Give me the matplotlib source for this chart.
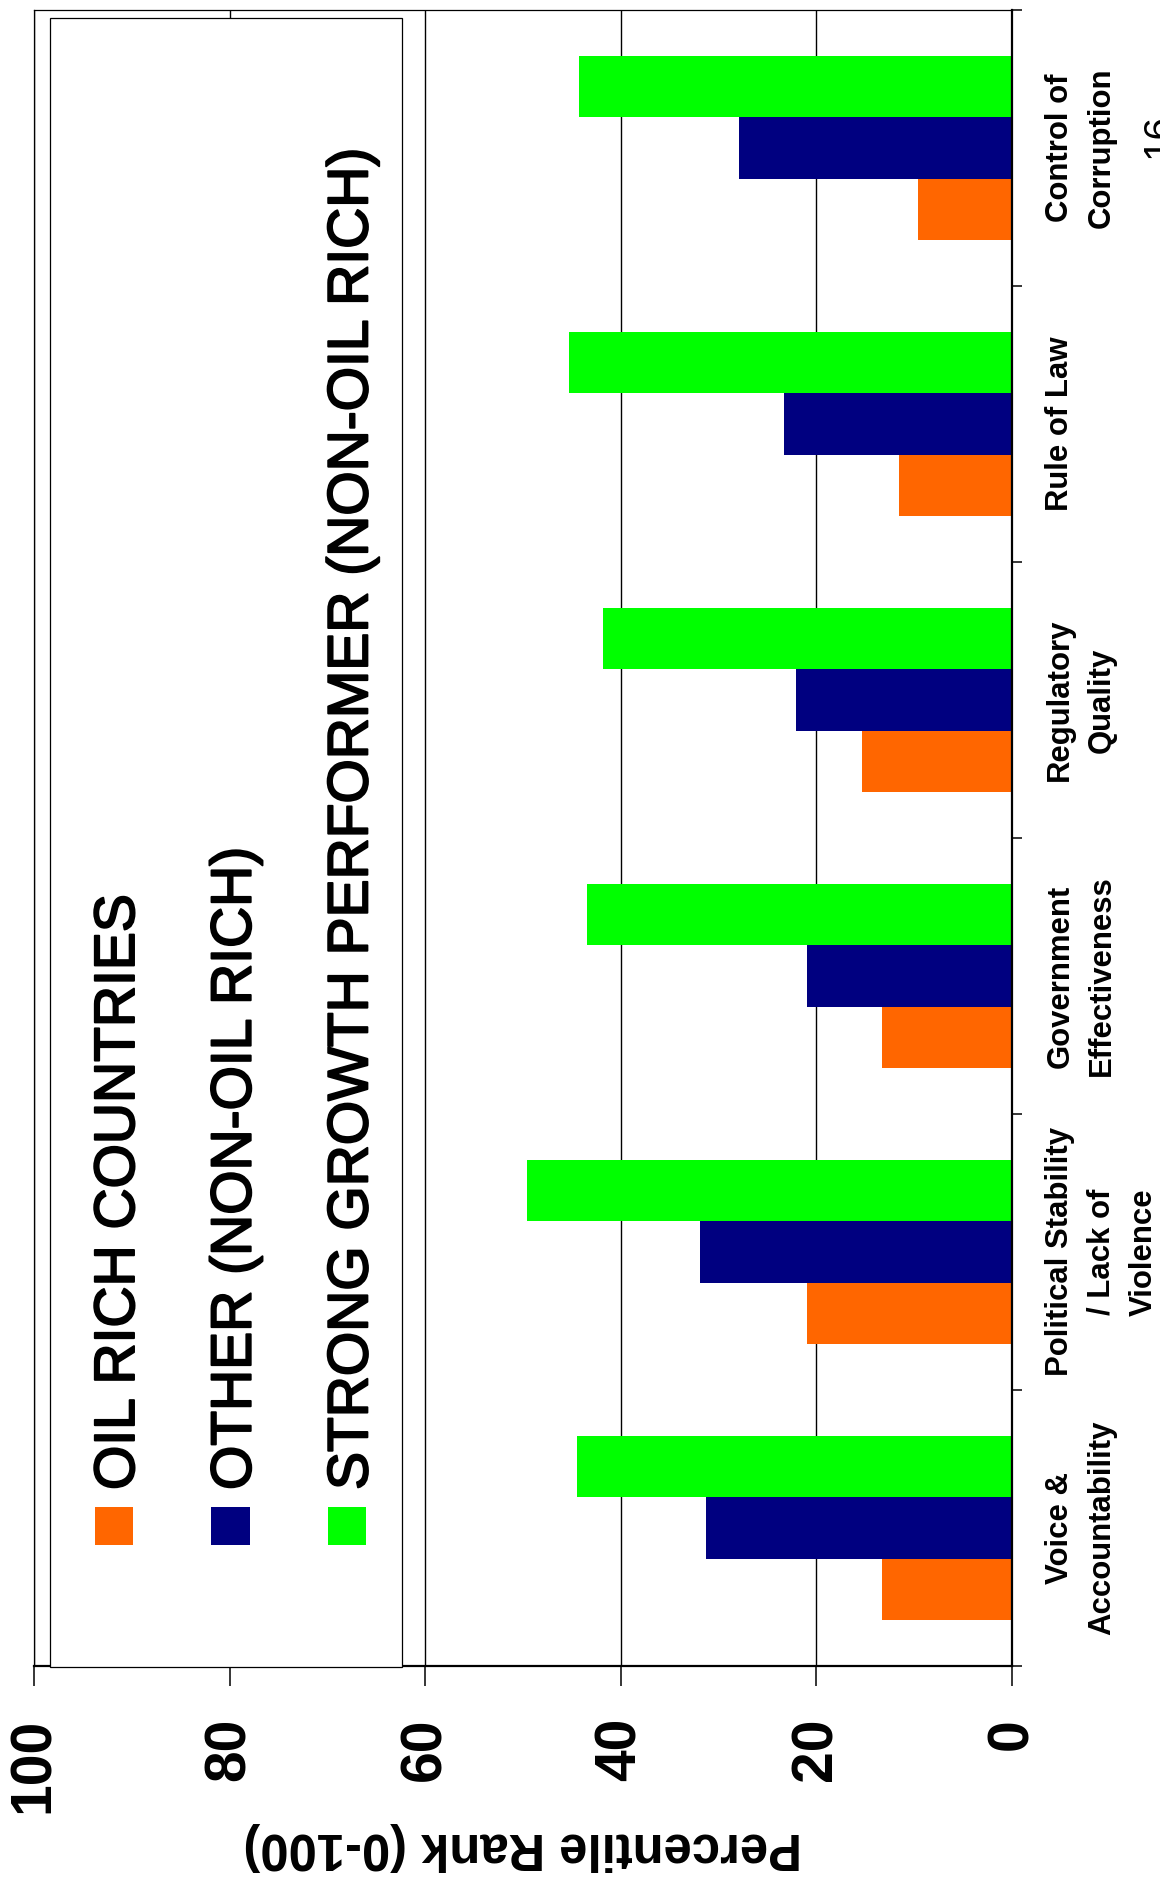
import matplotlib
matplotlib.use("Agg")
import matplotlib.pyplot as plt
import matplotlib.patheffects as pe
import numpy as np
from matplotlib.patches import Rectangle

plt.rcParams['font.family'] = ['Liberation Sans', 'DejaVu Sans']

# ---- data -------------------------------------------------------------
categories = [
    "Voice &\nAccountability",
    "Political Stability\n/ Lack of\nViolence",
    "Government\nEffectiveness",
    "Regulatory\nQuality",
    "Rule of Law",
    "Control of\nCorruption",
]
series_names = [
    "OIL RICH COUNTRIES",
    "OTHER (NON-OIL RICH)",
    "STRONG GROWTH PERFORMER (NON-OIL RICH)",
]
oil_rich = [13.3, 21.0, 13.3, 15.3, 11.6, 9.6]
other_non_oil = [31.3, 31.9, 21.0, 22.1, 23.3, 27.9]
strong_growth = [44.5, 49.6, 43.5, 41.8, 45.3, 44.3]
value_ticks = [0, 20, 40, 60, 80, 100]
value_label = "Percentile Rank (0-100)"
page_number = "16"

colors = ["#FF6600", "#000080", "#00FF00"]

# ---- figure -----------------------------------------------------------
W, H = 1160, 1887
fig = plt.figure(figsize=(W / 100, H / 100), dpi=100)
fig.patch.set_facecolor("white")


def fx(px):
    return px / W


def fy(py):
    return 1 - py / H


ax = fig.add_axes([fx(34), fy(1666), (1012 - 34) / W, (1666 - 10) / H])

y = np.arange(len(categories))
bar_h = 0.222
all_series = [oil_rich, other_non_oil, strong_growth]
for i, (vals, col) in enumerate(zip(all_series, colors)):
    ax.barh(y + (i - 1) * bar_h, vals, height=bar_h, color=col,
            edgecolor="none", zorder=2)

ax.set_xlim(100, 0)
ax.set_ylim(-0.5, len(categories) - 0.5)

# value axis
ax.set_xticks(value_ticks)
ax.set_xticklabels([str(v) for v in value_ticks], rotation=90,
                   fontsize=41, fontweight="bold")
ax.tick_params(axis="x", direction="out", length=14.4, width=1.1, pad=23,
               colors="black")
ax.xaxis.grid(True, color="black", linewidth=1.0)
ax.set_axisbelow(True)
ax.set_xlabel(value_label, rotation=180, fontsize=36.5, fontweight="bold",
              labelpad=6)

# category axis on the right
ax.yaxis.set_ticks_position("right")
ax.set_yticks(y)
ax.set_yticklabels(categories, rotation=90, fontsize=22.4, fontweight="bold",
                   va="center", ha="left", multialignment="center",
                   linespacing=1.5)
ax.set_yticks(np.arange(-0.5, len(categories) + 0.5, 1.0), minor=True)
ax.tick_params(axis="y", which="major", length=0, pad=24, left=False,
               right=True)
ax.tick_params(axis="y", which="minor", direction="out", length=7.2,
               width=1.1, left=False, right=True)

for side in ("right", "bottom"):
    ax.spines[side].set_linewidth(1.6)
for side in ("top", "left"):
    ax.spines[side].set_linewidth(0.9)

# ---- legend (rotated) -------------------------------------------------
fig.add_artist(Rectangle((fx(50), fy(1667)), (402 - 50) / W, (1667 - 18) / H,
                         transform=fig.transFigure, facecolor="white",
                         edgecolor="black", linewidth=0.9, zorder=3))
step = 116.7
heavier = [pe.withStroke(linewidth=1.4, foreground="black")]
for i, (name, col) in enumerate(zip(series_names, colors)):
    fig.add_artist(Rectangle((fx(94.5 + i * step), fy(1545)), 38.5 / W,
                             38.5 / H, transform=fig.transFigure,
                             facecolor=col, edgecolor="none", zorder=4))
    fig.text(fx(134 + i * step), fy(1490), name, rotation=90,
             rotation_mode="anchor", ha="left", va="baseline",
             fontsize=41.0, zorder=4, path_effects=heavier)

# page number at the right edge
fig.text(fx(1140), fy(136), page_number, rotation=90, rotation_mode="anchor",
         ha="center", va="top", fontsize=29)

fig.savefig("out.png", dpi=100, facecolor="white")
